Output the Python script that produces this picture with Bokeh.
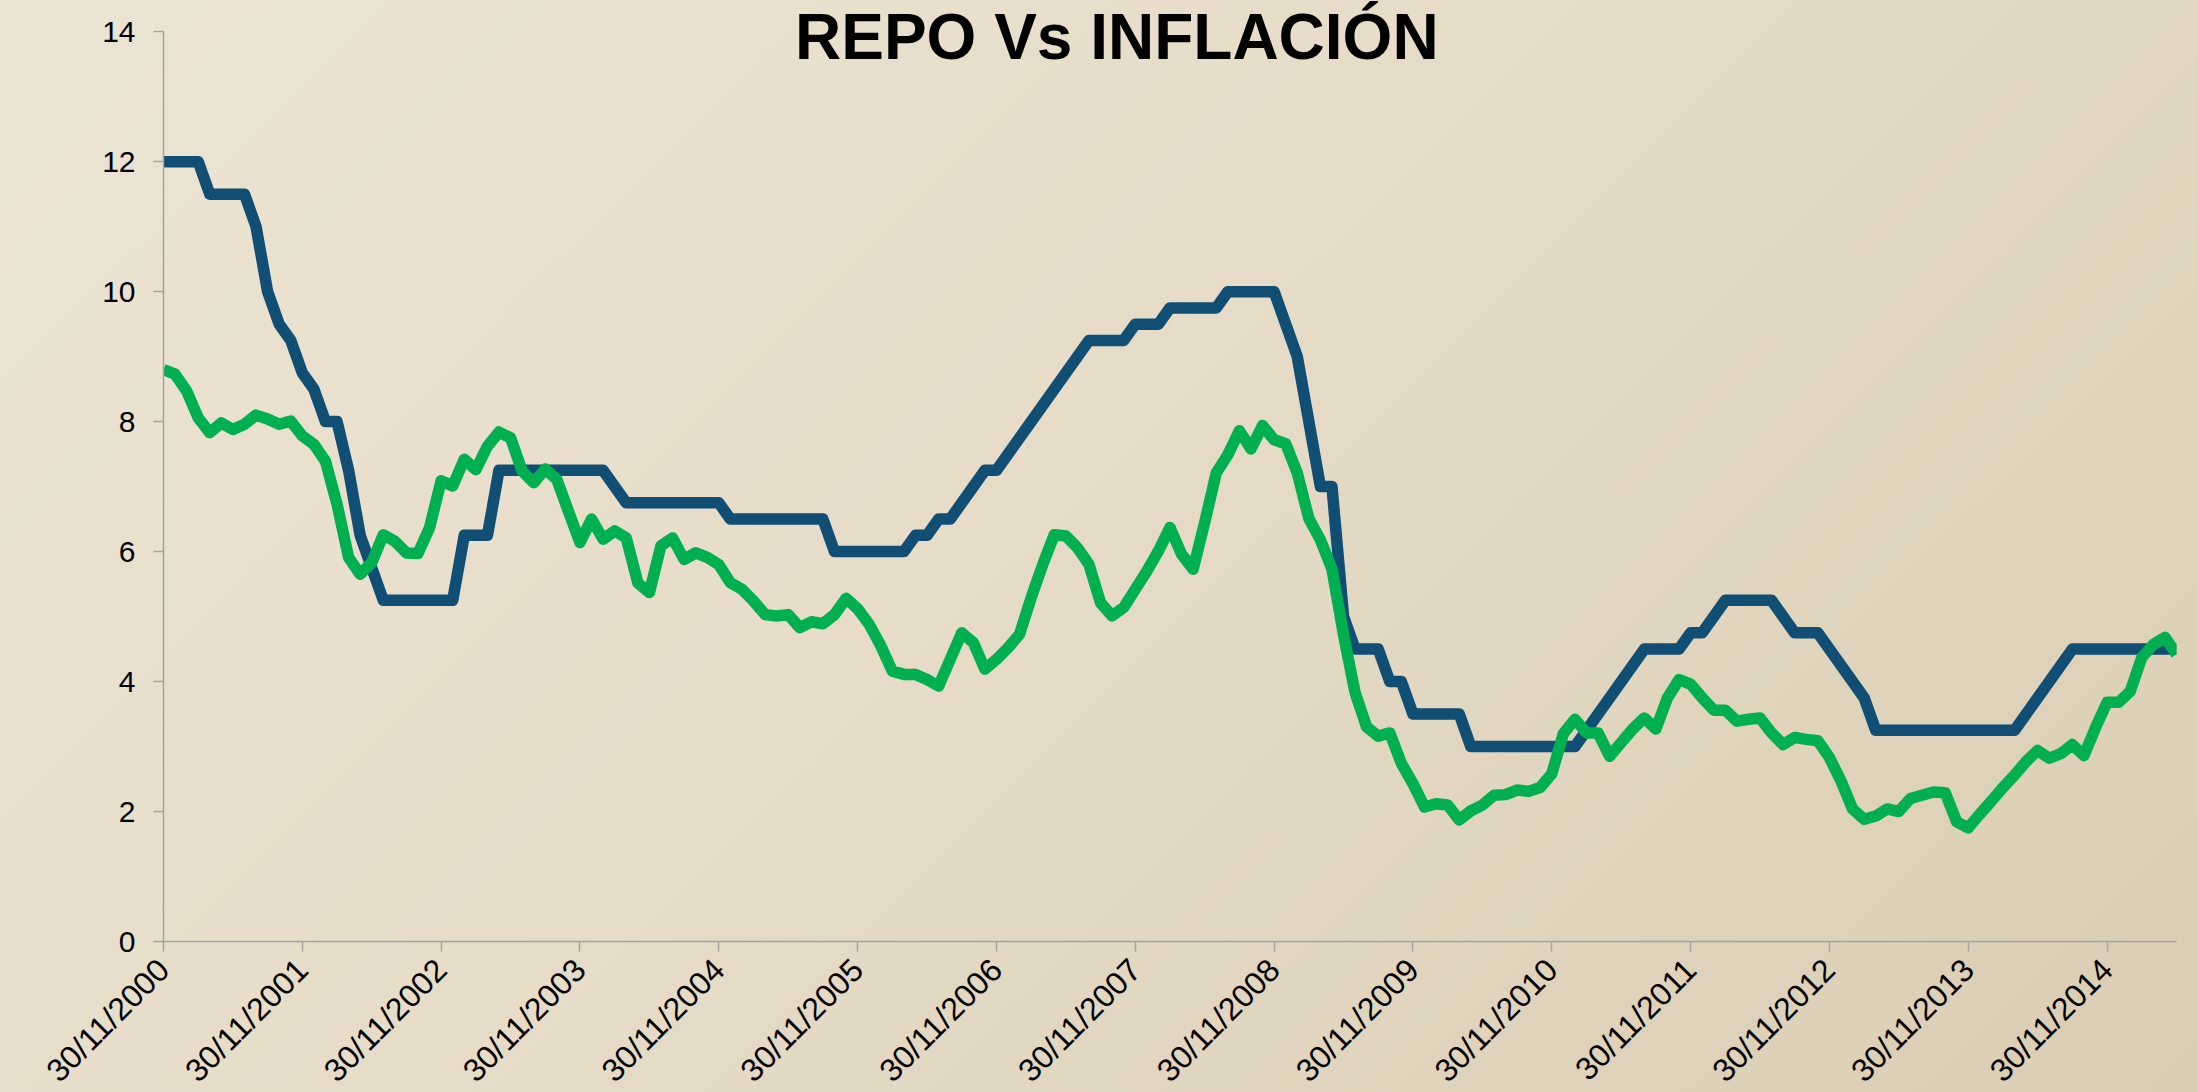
import numpy as np
from bokeh.plotting import figure
from bokeh.models import FixedTicker, Range1d, Label
from bokeh.embed import file_html
from bokeh.resources import INLINE

title_text = "REPO Vs INFLACIÓN"

# months elapsed since 30/11/2000 where a date label is shown
tick_months = [0, 12, 24, 36, 48, 60, 72, 84, 96, 108, 120, 132, 144, 156, 168]
tick_labels = ["30/11/2000", "30/11/2001", "30/11/2002", "30/11/2003", "30/11/2004",
               "30/11/2005", "30/11/2006", "30/11/2007", "30/11/2008", "30/11/2009",
               "30/11/2010", "30/11/2011", "30/11/2012", "30/11/2013", "30/11/2014"]
y_ticks = [0, 2, 4, 6, 8, 10, 12, 14]

# monthly series, Nov 2000 .. May 2015
repo = [12, 12, 12, 12, 11.5, 11.5, 11.5, 11.5, 11, 10,
        9.5, 9.25, 8.75, 8.5, 8, 8, 7.25, 6.25, 5.75, 5.25,
        5.25, 5.25, 5.25, 5.25, 5.25, 5.25, 6.25, 6.25, 6.25, 7.25,
        7.25, 7.25, 7.25, 7.25, 7.25, 7.25, 7.25, 7.25, 7.25, 7.0,
        6.75, 6.75, 6.75, 6.75, 6.75, 6.75, 6.75, 6.75, 6.75, 6.5,
        6.5, 6.5, 6.5, 6.5, 6.5, 6.5, 6.5, 6.5, 6.0, 6.0,
        6.0, 6.0, 6.0, 6.0, 6.0, 6.25, 6.25, 6.5, 6.5, 6.75,
        7.0, 7.25, 7.25, 7.5, 7.75, 8.0, 8.25, 8.5, 8.75, 9.0,
        9.25, 9.25, 9.25, 9.25, 9.5, 9.5, 9.5, 9.75, 9.75, 9.75,
        9.75, 9.75, 10, 10, 10, 10, 10, 9.5, 9.0, 8.0,
        7.0, 7.0, 5.0, 4.5, 4.5, 4.5, 4.0, 4.0, 3.5, 3.5,
        3.5, 3.5, 3.5, 3.0, 3.0, 3.0, 3.0, 3.0, 3.0, 3.0,
        3.0, 3.0, 3.0, 3.25, 3.5, 3.75, 4.0, 4.25, 4.5, 4.5,
        4.5, 4.5, 4.75, 4.75, 5.0, 5.25, 5.25, 5.25, 5.25, 5.25,
        5.0, 4.75, 4.75, 4.75, 4.5, 4.25, 4.0, 3.75, 3.25, 3.25,
        3.25, 3.25, 3.25, 3.25, 3.25, 3.25, 3.25, 3.25, 3.25, 3.25,
        3.25, 3.5, 3.75, 4.0, 4.25, 4.5, 4.5, 4.5, 4.5, 4.5,
        4.5, 4.5, 4.5, 4.5, 4.5]

inflacion = [8.80, 8.73, 8.47, 8.06, 7.83, 7.98, 7.88, 7.96, 8.10, 8.04,
             7.96, 8.01, 7.78, 7.65, 7.39, 6.73, 5.91, 5.65, 5.83, 6.26,
             6.16, 5.98, 5.97, 6.37, 7.09, 7.01, 7.42, 7.26, 7.62, 7.84,
             7.75, 7.24, 7.06, 7.27, 7.11, 6.62, 6.14, 6.50, 6.19, 6.32,
             6.21, 5.52, 5.37, 6.09, 6.21, 5.88, 5.98, 5.91, 5.80, 5.52,
             5.42, 5.24, 5.03, 5.01, 5.03, 4.83, 4.92, 4.89, 5.03, 5.28,
             5.12, 4.88, 4.55, 4.16, 4.11, 4.11, 4.03, 3.93, 4.34, 4.75,
             4.60, 4.19, 4.34, 4.52, 4.73, 5.29, 5.80, 6.26, 6.24, 6.06,
             5.80, 5.21, 5.01, 5.14, 5.42, 5.70, 6.01, 6.37, 5.96, 5.73,
             6.45, 7.21, 7.49, 7.86, 7.58, 7.94, 7.72, 7.66, 7.21, 6.51,
             6.18, 5.73, 4.72, 3.83, 3.30, 3.16, 3.21, 2.74, 2.43, 2.07,
             2.12, 2.10, 1.87, 2.01, 2.10, 2.25, 2.26, 2.33, 2.31, 2.37,
             2.58, 3.20, 3.42, 3.21, 3.21, 2.85, 3.06, 3.27, 3.44, 3.27,
             3.75, 4.03, 3.96, 3.75, 3.56, 3.56, 3.39, 3.42, 3.44, 3.21,
             3.03, 3.14, 3.11, 3.09, 2.83, 2.47, 2.04, 1.88, 1.93, 2.04,
             2.00, 2.20, 2.25, 2.30, 2.29, 1.84, 1.75, 1.96, 2.16, 2.37,
             2.56, 2.77, 2.94, 2.82, 2.89, 3.03, 2.86, 3.29, 3.68, 3.68,
             3.85, 4.37, 4.57, 4.68, 4.42]

months = list(range(len(repo)))

FONT = "Liberation Sans"
W = 2198
FRAME_H, BOTTOM = 941, 200
H = FRAME_H + BOTTOM
PX_PER_UNIT = 909.8 / 14.0
Y_TOP = FRAME_H / PX_PER_UNIT   # frame reaches the page top; axis line stops at 14

p = figure(width=W, height=H, output_backend="svg", toolbar_location=None,
           x_range=Range1d(0, len(repo) - 1), y_range=Range1d(0, Y_TOP),
           min_border_left=163, min_border_right=22,
           min_border_top=0, min_border_bottom=BOTTOM)

p.background_fill_alpha = 0
p.border_fill_alpha = 0
p.outline_line_color = None
p.grid.grid_line_color = None

axis_col = "#a3a3a3"
for ax in (p.xaxis[0], p.yaxis[0]):
    ax.axis_line_color = axis_col
    ax.axis_line_width = 1.5
    ax.major_tick_line_color = axis_col
    ax.major_tick_line_width = 1.5
    ax.major_tick_out = 10
    ax.major_tick_in = 0
    ax.minor_tick_line_color = None
    ax.major_label_text_font = FONT
    ax.major_label_text_color = "#000000"

p.xaxis.ticker = FixedTicker(ticks=tick_months)
p.xaxis.major_label_overrides = {m: s for m, s in zip(tick_months, tick_labels)}
p.xaxis.major_label_orientation = np.pi / 4
p.xaxis.major_label_text_font_size = "32px"
p.xaxis.major_label_standoff = 13

p.yaxis.ticker = FixedTicker(ticks=y_ticks)
p.yaxis.bounds = (0, 14)
p.yaxis.major_label_text_font_size = "30px"
p.yaxis.major_label_standoff = 18

p.line(months, repo, line_color="#114E74", line_width=11.5, line_join="round")
p.line(months, inflacion, line_color="#00B050", line_width=11.5, line_join="round")

p.add_layout(Label(x=82.4, y=13.92, text=title_text, text_align="center",
                   text_baseline="alphabetic", text_font=FONT,
                   text_font_size="64px", text_font_style="bold",
                   text_color="#000000"))

html = file_html(p, INLINE, title=title_text)
css = ("<style>html,body{overflow:hidden;}"
       "html{min-height:100%;background:linear-gradient(135deg,#ECE4D3 0%,#E6DCC8 45%,#DACDB3 100%);}"
       "body{background:transparent;margin:0 !important;padding:0;}</style>")
html = html.replace("</head>", css + "</head>", 1)
with open("out.html", "w", encoding="utf-8") as f:
    f.write(html)
